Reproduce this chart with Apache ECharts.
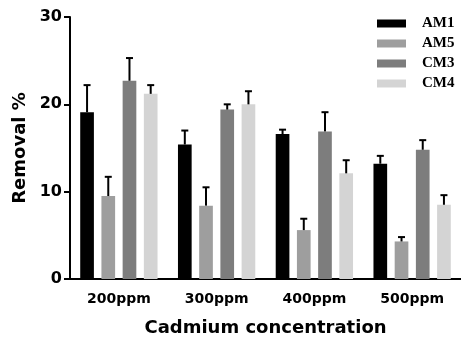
<!DOCTYPE html>
<html>
<head>
<meta charset="utf-8">
<script src="https://cdn.jsdelivr.net/npm/echarts@6/dist/echarts.min.js"></script>
<style>html,body{margin:0;padding:0;background:#fff}#c{width:461px;height:345px}</style>
</head>
<body>
<div id="c"></div>
<script>
var categories = ['200ppm', '300ppm', '400ppm', '500ppm'];
var seriesNames = ['AM1', 'AM5', 'CM3', 'CM4'];
var AM1 = [19.1, 15.4, 16.6, 13.2];
var AM5 = [9.5, 8.4, 5.6, 4.3];
var CM3 = [22.7, 19.4, 16.9, 14.8];
var CM4 = [21.2, 20.0, 12.1, 8.5];
var AM1_err = [3.1, 1.6, 0.5, 0.9];
var AM5_err = [2.2, 2.1, 1.3, 0.5];
var CM3_err = [2.6, 0.6, 2.2, 1.1];
var CM4_err = [1.0, 1.5, 1.5, 1.1];
var yTicks = [0, 10, 20, 30];

var values = [AM1, AM5, CM3, CM4];
var errs = [AM1_err, AM5_err, CM3_err, CM4_err];
var colors = ['#000000', '#9e9e9e', '#7d7d7d', '#d4d4d4'];
var BAR_PCT = 0.14, GAP = 0.55;

var errData = [];
for (var s = 0; s < 4; s++) {
  for (var i = 0; i < categories.length; i++) {
    errData.push([i, s, values[s][i], values[s][i] + errs[s][i]]);
  }
}

var series = seriesNames.map(function (n, s) {
  return {
    name: n, type: 'bar', data: values[s],
    barWidth: (BAR_PCT * 100) + '%', barGap: (GAP * 100) + '%',
    itemStyle: { color: colors[s] }
  };
});
series.push({
  type: 'custom', z: 10, silent: true,
  data: errData,
  renderItem: function (params, api) {
    var ci = api.value(0), si = api.value(1);
    var bandW = api.size([1, 0])[0];
    var bw = bandW * BAR_PCT;
    var step = bw * (1 + GAP);
    var base = api.coord([ci, api.value(2)]);
    var top = api.coord([ci, api.value(3)]);
    var x = base[0] + (si - 1.5) * step;
    var cap = 3.5;
    return {
      type: 'group',
      children: [
        { type: 'line', shape: { x1: x, y1: base[1], x2: x, y2: top[1] }, style: { stroke: '#000', lineWidth: 2 } },
        { type: 'line', shape: { x1: x - cap, y1: top[1], x2: x + cap, y2: top[1] }, style: { stroke: '#000', lineWidth: 2 } }
      ]
    };
  }
});

var chart = echarts.init(document.getElementById('c'), null, { renderer: 'canvas' });
chart.setOption({
  animation: false,
  backgroundColor: '#fff',
  grid: { left: 70, top: 17, width: 396, bottom: 66, containLabel: false },
  legend: {
    data: seriesNames, orient: 'vertical', left: 377, top: 16, padding: 0,
    itemWidth: 29, itemHeight: 8, itemGap: 5,
    textStyle: { fontFamily: 'Liberation Serif', fontWeight: 'bold', fontSize: 15, color: '#000', lineHeight: 15, padding: [0, 0, 0, 11] },
    icon: 'rect'
  },
  xAxis: {
    type: 'category', data: categories,
    name: 'Cadmium concentration', nameLocation: 'middle', nameGap: 40,
    nameTextStyle: { fontFamily: 'DejaVu Sans', fontWeight: 'bold', fontSize: 18, color: '#000' },
    axisLine: { lineStyle: { color: '#000', width: 2 } },
    axisTick: { alignWithLabel: true, length: 5, lineStyle: { color: '#000', width: 2 } },
    axisLabel: { fontFamily: 'DejaVu Sans', fontWeight: 'bold', fontSize: 14, color: '#000', margin: 13 }
  },
  yAxis: {
    type: 'value', min: yTicks[0], max: yTicks[yTicks.length - 1], interval: 10,
    name: 'Removal %', nameLocation: 'middle', nameGap: 40,
    nameTextStyle: { fontFamily: 'DejaVu Sans', fontWeight: 'bold', fontSize: 18, color: '#000' },
    splitLine: { show: false },
    axisLine: { show: true, lineStyle: { color: '#000', width: 2 } },
    axisTick: { show: true, length: 6, lineStyle: { color: '#000', width: 2 } },
    axisLabel: { fontFamily: 'DejaVu Sans', fontWeight: 'bold', fontSize: 16, color: '#000', margin: 8 }
  },
  series: series
});
</script>
</body>
</html>
